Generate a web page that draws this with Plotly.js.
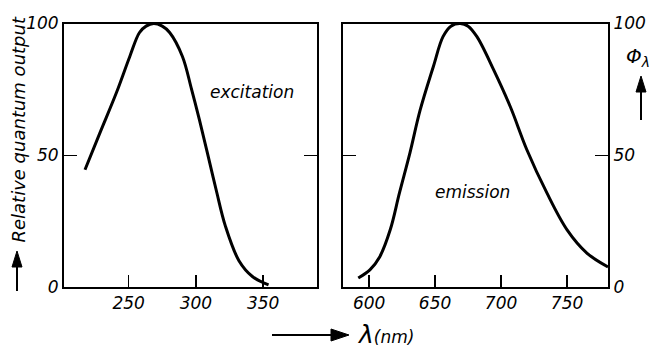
<!DOCTYPE html>
<html>
<head>
<meta charset="utf-8">
<script src="https://cdn.plot.ly/plotly-3.0.1.min.js"></script>
<style>html,body{margin:0;padding:0;background:#fff;}#chart{width:652px;height:349px;}</style>
</head>
<body>
<div id="chart"></div>
<script>
// Excitation spectrum (left panel)
var excWavelength = [217.6, 228.7, 241, 250.9, 258, 263, 268.7, 275, 280.5, 290, 296.8, 302.6, 308.5, 315, 322, 332, 342, 354];
var excOutput     = [44.5, 58.5, 73.8, 87.5, 96.5, 99, 100, 99, 96.6, 87.5, 75, 63.5, 51, 37, 23, 10, 4, 0.8];
// Emission spectrum (right panel)
var emiWavelength = [591.8, 600.6, 608, 616, 623, 631, 638.6, 648.7, 656, 662, 669, 675, 681.7, 694.3, 707, 719.6, 734.7, 750, 765, 781];
var emiOutput     = [3.4, 6.5, 11.4, 21.7, 35.7, 51, 67, 83.7, 95, 99, 100, 99, 95, 82.5, 68.4, 52, 35.7, 21.7, 12.9, 7.6];
// Tick labels
var excTicks = [250, 300, 350];
var emiTicks = [600, 650, 700, 750];
var yTicks = [0, 50, 100];

var W = 652, H = 349;
function px(x){ return x / W; }
function py(y){ return 1 - y / H; }

var FONT = 'DejaVu Sans, sans-serif';
var tickFont = {family: FONT, size: 17, color: '#000', style: 'italic'};

var traces = [
  {x: excWavelength, y: excOutput, xaxis: 'x', yaxis: 'y', mode: 'lines',
   line: {color: '#000', width: 3, shape: 'spline', smoothing: 1}, hoverinfo: 'skip'},
  {x: emiWavelength, y: emiOutput, xaxis: 'x2', yaxis: 'y2', mode: 'lines',
   line: {color: '#000', width: 3, shape: 'spline', smoothing: 1}, hoverinfo: 'skip'}
];

var axisCommon = {
  showline: true, linewidth: 2, linecolor: '#000', showgrid: false, zeroline: false,
  ticks: 'inside', tickcolor: '#000', tickwidth: 1.5, tickfont: tickFont, fixedrange: true
};

// arrow helper: shaft line + filled triangular head, in pixel coords converted to paper
function arrowShapes(x0, y0, x1, y1, headLen, headHalf) {
  var dx = x1 - x0, dy = y1 - y0, L = Math.sqrt(dx*dx + dy*dy);
  var ux = dx / L, uy = dy / L, nx = -uy, ny = ux;
  var bx = x1 - ux * headLen, by = y1 - uy * headLen;
  return [
    {type: 'line', xref: 'paper', yref: 'paper', x0: px(x0), y0: py(y0), x1: px(bx), y1: py(by),
     line: {color: '#000', width: 2}},
    {type: 'path', xref: 'paper', yref: 'paper',
     path: 'M' + px(x1) + ',' + py(y1) + ' L' + px(bx + nx*headHalf) + ',' + py(by + ny*headHalf) +
           ' L' + px(bx - nx*headHalf) + ',' + py(by - ny*headHalf) + ' Z',
     fillcolor: '#000', line: {color: '#000', width: 1}}
  ];
}

var shapes = [].concat(
  arrowShapes(17, 291, 17, 251, 16, 5),
  arrowShapes(272, 335, 349, 335, 18, 6),
  arrowShapes(641, 120, 641, 76, 16, 5)
);

var layout = {
  width: W, height: H,
  margin: {l: 0, r: 0, t: 0, b: 0},
  paper_bgcolor: '#fff', plot_bgcolor: '#fff',
  showlegend: false,
  xaxis: Object.assign({}, axisCommon, {domain: [px(64), px(317)], range: [202, 390],
    tickvals: excTicks, ticktext: excTicks.map(String), ticklen: 12, mirror: true, anchor: 'y'}),
  yaxis: Object.assign({}, axisCommon, {domain: [py(287), py(23.5)], range: [0, 100],
    tickvals: yTicks, ticktext: yTicks.map(String), ticklen: 13, mirror: 'ticks', anchor: 'x'}),
  xaxis2: Object.assign({}, axisCommon, {domain: [px(342.7), px(608)], range: [580, 781],
    tickvals: emiTicks, ticktext: emiTicks.map(String), ticklen: 12, mirror: true, anchor: 'y2'}),
  yaxis2: Object.assign({}, axisCommon, {domain: [py(287), py(23.5)], range: [0, 100],
    tickvals: yTicks, ticktext: yTicks.map(String), ticklen: 13, mirror: 'ticks', side: 'right', anchor: 'x2'}),
  shapes: shapes,
  annotations: [
    {xref: 'x', yref: 'y', x: 342, y: 74, text: 'excitation', showarrow: false,
     font: {family: FONT, size: 17, style: 'italic', color: '#000'}},
    {xref: 'x2', yref: 'y2', x: 678, y: 36, text: 'emission', showarrow: false,
     font: {family: FONT, size: 17, style: 'italic', color: '#000'}},
    {xref: 'paper', yref: 'paper', x: px(6), y: py(130), xanchor: 'left', yanchor: 'middle',
     text: 'Relative quantum output', showarrow: false,
     textangle: -90, font: {family: FONT, size: 18, style: 'italic', color: '#000'}},
    {xref: 'paper', yref: 'paper', x: px(355), y: py(334), xanchor: 'left', yanchor: 'middle',
     text: 'λ<span style="font-size:17px">(nm)</span>', showarrow: false,
     font: {family: FONT, size: 25, style: 'italic', color: '#000'}},
    {xref: 'paper', yref: 'paper', x: px(624), y: py(57), xanchor: 'left', yanchor: 'middle',
     text: 'Φ<sub>λ</sub>', showarrow: false,
     font: {family: FONT, size: 20, style: 'italic', color: '#000'}}
  ]
};

Plotly.newPlot('chart', traces, layout, {staticPlot: true, displayModeBar: false});
</script>
</body>
</html>
